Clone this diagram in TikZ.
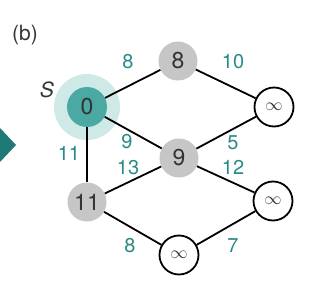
\documentclass[tikz,border=0pt]{standalone}
\usepackage{fontspec}
\setmainfont{TeX Gyre Heros}
\begin{document}
\begin{tikzpicture}[x=1pt,y=-1pt,
  every node/.style={inner sep=0pt},
  wt/.style={text=teallbl,font=\fontsize{20}{20}\selectfont},
  gnode/.style={circle,fill=grayfill,minimum size=39pt,text=nodetxt,font=\fontsize{23}{23}\selectfont},
  inode/.style={circle,draw=black,line width=1.8pt,fill=white,minimum size=39pt,text=nodetxt,font=\fontsize{18}{18}\selectfont},
  edge/.style={draw=black,line width=1.8pt}]
\definecolor{teallbl}{HTML}{2A8A87}
\definecolor{tealfill}{HTML}{4BA9A4}
\definecolor{tealhalo}{HTML}{CFE9E7}
\definecolor{grayfill}{HTML}{C6C6C6}
\definecolor{nodetxt}{HTML}{333333}
\definecolor{arrowc}{HTML}{1F7A76}
\useasboundingbox (0,0) rectangle (322,292);
\begin{scope}
\clip (0,0) rectangle (322,292);
\fill[arrowc] (0,128) -- (16,145) -- (0,162) -- (-16,145) -- cycle;
\end{scope}
\fill[tealhalo] (87,107) circle (33);
\node[circle,fill=tealfill,minimum size=40pt,text=nodetxt,font=\fontsize{23}{23}\selectfont] (s) at (87,107) {0};
\node[gnode] (a) at (178,61) {8};
\node[gnode] (b) at (179,158) {9};
\node[gnode] (c) at (87,202) {11};
\node[inode] (d) at (274,107) {$\infty$};
\node[inode] (e) at (273,201) {$\infty$};
\node[inode] (f) at (179,255) {$\infty$};
\draw[edge] (s) -- (a);
\draw[edge] (s) -- (b);
\draw[edge] (s) -- (c);
\draw[edge] (a) -- (d);
\draw[edge] (b) -- (d);
\draw[edge] (b) -- (c);
\draw[edge] (b) -- (e);
\draw[edge] (c) -- (f);
\draw[edge] (f) -- (e);
\node[wt] (w1) at (128,62) {8};
\node[wt] (w2) at (233,62) {10};
\node[wt] (w3) at (127,142) {9};
\node[wt] (w4) at (128,168) {13};
\node[wt] (w5) at (69,153) {11};
\node[wt] (w6) at (233,143) {5};
\node[wt] (w7) at (233,167) {12};
\node[wt] (w8) at (130,246) {8};
\node[wt] (w9) at (233,246) {7};
\node[font=\fontsize{21}{21}\selectfont,text=nodetxt] (lb) at (25,35) {(b)};
\node[font=\itshape\fontsize{21}{21}\selectfont,text=nodetxt] (ls) at (47,90) {S};
\end{tikzpicture}
\end{document}
